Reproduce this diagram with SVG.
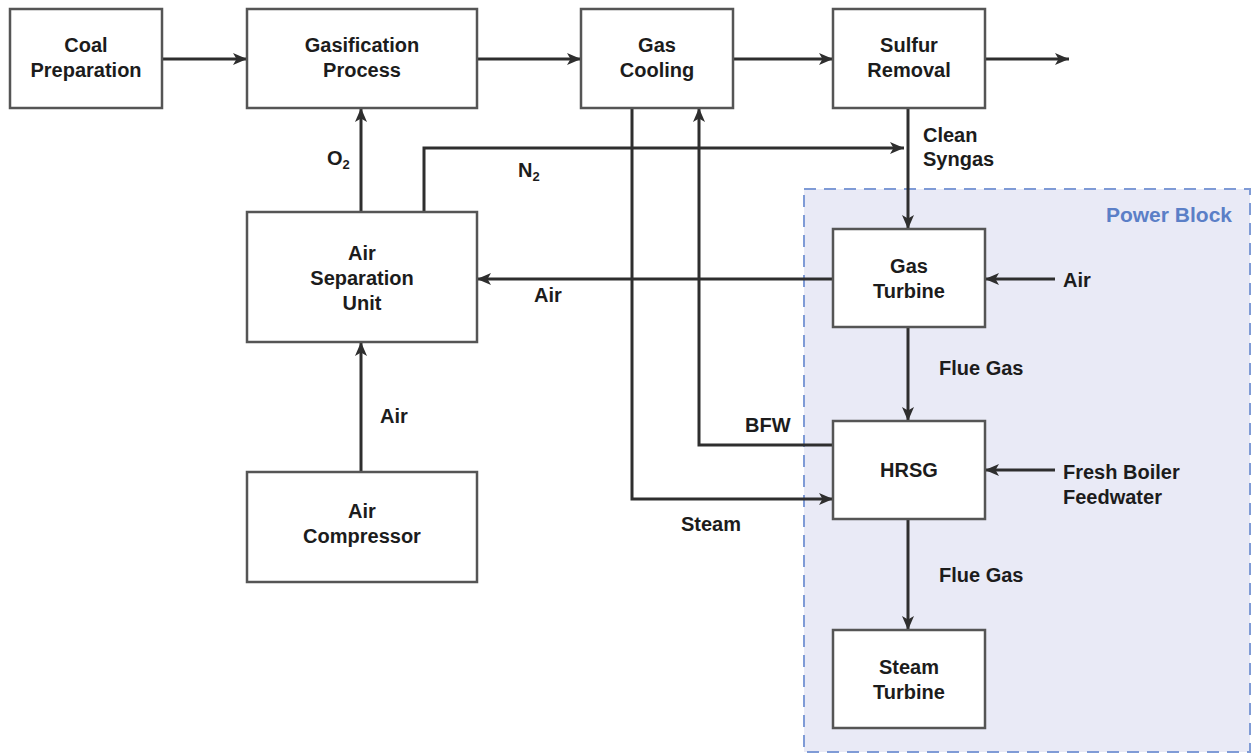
<svg xmlns="http://www.w3.org/2000/svg" width="1257" height="756" viewBox="0 0 1257 756">
<style>
.box{fill:#ffffff;stroke:#555555;stroke-width:2.5}
.lbl{font-family:"Liberation Sans",Arial,sans-serif;font-weight:bold;font-size:20px;fill:#1c1c1c}
.c{text-anchor:middle}
.ln{fill:none;stroke:#2e2e2e;stroke-width:3}
.arr{marker-end:url(#ah)}
</style>
<defs>
<marker id="ah" markerUnits="userSpaceOnUse" markerWidth="15" markerHeight="12" refX="14" refY="6" orient="auto">
<path d="M0,0 L14,6 L0,12 L3.5,6 z" fill="#2e2e2e"/>
</marker>
</defs>
<rect width="1257" height="756" fill="#ffffff"/>
<g id="power-block">
<rect x="804" y="189" width="446" height="563" fill="#e9eaf6" stroke="#7f9bd6" stroke-width="2" stroke-dasharray="12,8"/>
<text class="lbl" x="1232" y="222" text-anchor="end" style="font-size:21px;fill:#5b7fc7">Power Block</text>
</g>
<g id="connectors">
<line class="ln arr" x1="162" y1="59" x2="247" y2="59"/>
<line class="ln arr" x1="477" y1="59" x2="581" y2="59"/>
<line class="ln arr" x1="733" y1="59" x2="833" y2="59"/>
<line class="ln arr" x1="985" y1="59" x2="1069" y2="59"/>
<line class="ln arr" x1="361" y1="212" x2="361" y2="108"/>
<polyline class="ln arr" points="424,212 424,148 904,148"/>
<line class="ln arr" x1="908" y1="108" x2="908" y2="229"/>
<line class="ln arr" x1="833" y1="279" x2="477" y2="279"/>
<line class="ln arr" x1="1055" y1="279" x2="985" y2="279"/>
<line class="ln arr" x1="361" y1="472" x2="361" y2="342"/>
<polyline class="ln arr" points="632,108 632,499 833,499"/>
<polyline class="ln arr" points="833,445 699,445 699,108"/>
<line class="ln arr" x1="908" y1="327" x2="908" y2="421"/>
<line class="ln arr" x1="1055" y1="470" x2="985" y2="470"/>
<line class="ln arr" x1="908" y1="519" x2="908" y2="630"/>
<text class="lbl" x="327" y="165">O<tspan font-size="13" dy="4">2</tspan></text>
<text class="lbl" x="518" y="177">N<tspan font-size="13" dy="4">2</tspan></text>
<text class="lbl" x="923" y="142">Clean</text>
<text class="lbl" x="923" y="166">Syngas</text>
<text class="lbl" x="534" y="302">Air</text>
<text class="lbl" x="1063" y="287">Air</text>
<text class="lbl" x="380" y="423">Air</text>
<text class="lbl" x="939" y="375">Flue Gas</text>
<text class="lbl" x="745" y="432">BFW</text>
<text class="lbl" x="681" y="531">Steam</text>
<text class="lbl" x="1063" y="479">Fresh Boiler</text>
<text class="lbl" x="1063" y="504">Feedwater</text>
<text class="lbl" x="939" y="582">Flue Gas</text>
</g>
<g id="coal-preparation">
<rect class="box" x="10" y="9" width="152" height="99"/>
<text class="lbl c" x="86" y="52">Coal</text>
<text class="lbl c" x="86" y="77">Preparation</text>
</g>
<g id="gasification-process">
<rect class="box" x="247" y="9" width="230" height="99"/>
<text class="lbl c" x="362" y="52">Gasification</text>
<text class="lbl c" x="362" y="77">Process</text>
</g>
<g id="gas-cooling">
<rect class="box" x="581" y="9" width="152" height="99"/>
<text class="lbl c" x="657" y="52">Gas</text>
<text class="lbl c" x="657" y="77">Cooling</text>
</g>
<g id="sulfur-removal">
<rect class="box" x="833" y="9" width="152" height="99"/>
<text class="lbl c" x="909" y="52">Sulfur</text>
<text class="lbl c" x="909" y="77">Removal</text>
</g>
<g id="air-separation-unit">
<rect class="box" x="247" y="212" width="230" height="130"/>
<text class="lbl c" x="362" y="260">Air</text>
<text class="lbl c" x="362" y="285">Separation</text>
<text class="lbl c" x="362" y="310">Unit</text>
</g>
<g id="air-compressor">
<rect class="box" x="247" y="472" width="230" height="110"/>
<text class="lbl c" x="362" y="518">Air</text>
<text class="lbl c" x="362" y="543">Compressor</text>
</g>
<g id="gas-turbine">
<rect class="box" x="833" y="229" width="152" height="98"/>
<text class="lbl c" x="909" y="273">Gas</text>
<text class="lbl c" x="909" y="298">Turbine</text>
</g>
<g id="hrsg">
<rect class="box" x="833" y="421" width="152" height="98"/>
<text class="lbl c" x="909" y="477">HRSG</text>
</g>
<g id="steam-turbine">
<rect class="box" x="833" y="630" width="152" height="98"/>
<text class="lbl c" x="909" y="674">Steam</text>
<text class="lbl c" x="909" y="699">Turbine</text>
</g>
</svg>
